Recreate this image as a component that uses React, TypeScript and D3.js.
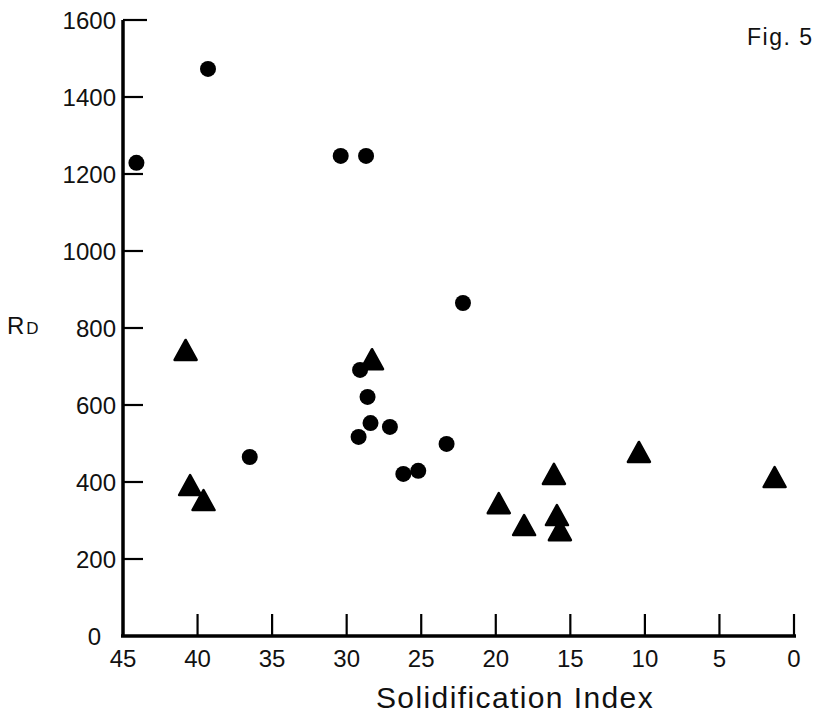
import React from "react";
import * as d3 from "d3";

// Data (Solidification Index, RD)
const circleSI = [39.3, 44.1, 30.4, 28.7, 22.2, 29.1, 28.6, 28.4, 27.1, 29.2, 23.3, 26.2, 25.2, 36.5];
const circleRD = [1473, 1229, 1247, 1247, 865, 691, 621, 553, 543, 517, 499, 421, 429, 465];

const triangleSI = [40.8, 40.5, 39.6, 28.3, 19.8, 18.1, 16.1, 15.9, 15.7, 10.4, 1.3];
const triangleRD = [743, 392, 353, 719, 345, 288, 421, 314, 275, 478, 413];

const xTicks = [45, 40, 35, 30, 25, 20, 15, 10, 5, 0];
const yTicks = [0, 200, 400, 600, 800, 1000, 1200, 1400, 1600];

const W = 818;
const H = 721;
const FONT = "'Liberation Sans', Arial, sans-serif";

export default function App() {
  const x = d3.scaleLinear().domain([45, 0]).range([123, 794]);
  const y = d3.scaleLinear().domain([0, 1600]).range([636, 20]);

  const circles = circleSI.map((v, i) => ({ sx: v, ry: circleRD[i] }));
  const triangles = triangleSI.map((v, i) => ({ sx: v, ry: triangleRD[i] }));

  const triPath = (cx: number, cy: number) => {
    const p = d3.path();
    p.moveTo(cx, cy - 10);
    p.lineTo(cx + 11, cy + 10);
    p.lineTo(cx - 11, cy + 10);
    p.closePath();
    return p.toString();
  };

  return (
    <div style={{ position: "fixed", left: 0, top: 0 }}>
      <svg width={W} height={H} style={{ display: "block", background: "#fff" }}>
        {/* axes */}
        <line x1={x(45)} y1={y(0)} x2={x(45)} y2={y(1600)} stroke="#000" strokeWidth={3.5} />
        <line x1={x(45) - 2} y1={y(0)} x2={x(0) + 2} y2={y(0)} stroke="#000" strokeWidth={3.5} />
        {/* y ticks */}
        {yTicks.filter((t) => t !== 0).map((t) => (
          <line key={"yt" + t} x1={x(45)} x2={x(45) + (t === 1600 ? 24 : 20)} y1={y(t)} y2={y(t)} stroke="#000" strokeWidth={2.2} />
        ))}
        {yTicks.map((t) => (
          <text
            key={"yl" + t}
            x={t === 0 ? 101 : 116}
            y={y(t)}
            dy="0.36em"
            textAnchor="end"
            fontFamily={FONT}
            fontSize={24}
            fill="#111"
          >
            {t}
          </text>
        ))}
        {/* x ticks */}
        {xTicks.filter((t) => t !== 45).map((t) => (
          <line key={"xt" + t} x1={x(t)} x2={x(t)} y1={y(0)} y2={y(0) - 22} stroke="#000" strokeWidth={2.2} />
        ))}
        {xTicks.map((t) => (
          <text
            key={"xl" + t}
            x={x(t)}
            y={667}
            textAnchor="middle"
            fontFamily={FONT}
            fontSize={24}
            fill="#111"
          >
            {t}
          </text>
        ))}
        {/* axis titles */}
        <text x={515} y={708} textAnchor="middle" fontFamily={FONT} fontSize={30} letterSpacing={1.4} fill="#111">
          Solidification Index
        </text>
        <text x={7} y={334} fontFamily={FONT} fontSize={24} fill="#111">
          R<tspan fontSize={17} dx={2}>D</tspan>
        </text>
        <text x={747} y={45} fontFamily={FONT} fontSize={23} letterSpacing={1.5} fill="#111">
          Fig. 5
        </text>
        {/* markers */}
        {circles.map((d, i) => (
          <circle key={"c" + i} cx={x(d.sx)} cy={y(d.ry)} r={8} fill="#000" />
        ))}
        {triangles.map((d, i) => (
          <path
            key={"t" + i}
            d={triPath(x(d.sx), y(d.ry))}
            fill="#000"
            stroke="#000"
            strokeWidth={2.5}
            strokeLinejoin="round"
          />
        ))}
      </svg>
    </div>
  );
}
